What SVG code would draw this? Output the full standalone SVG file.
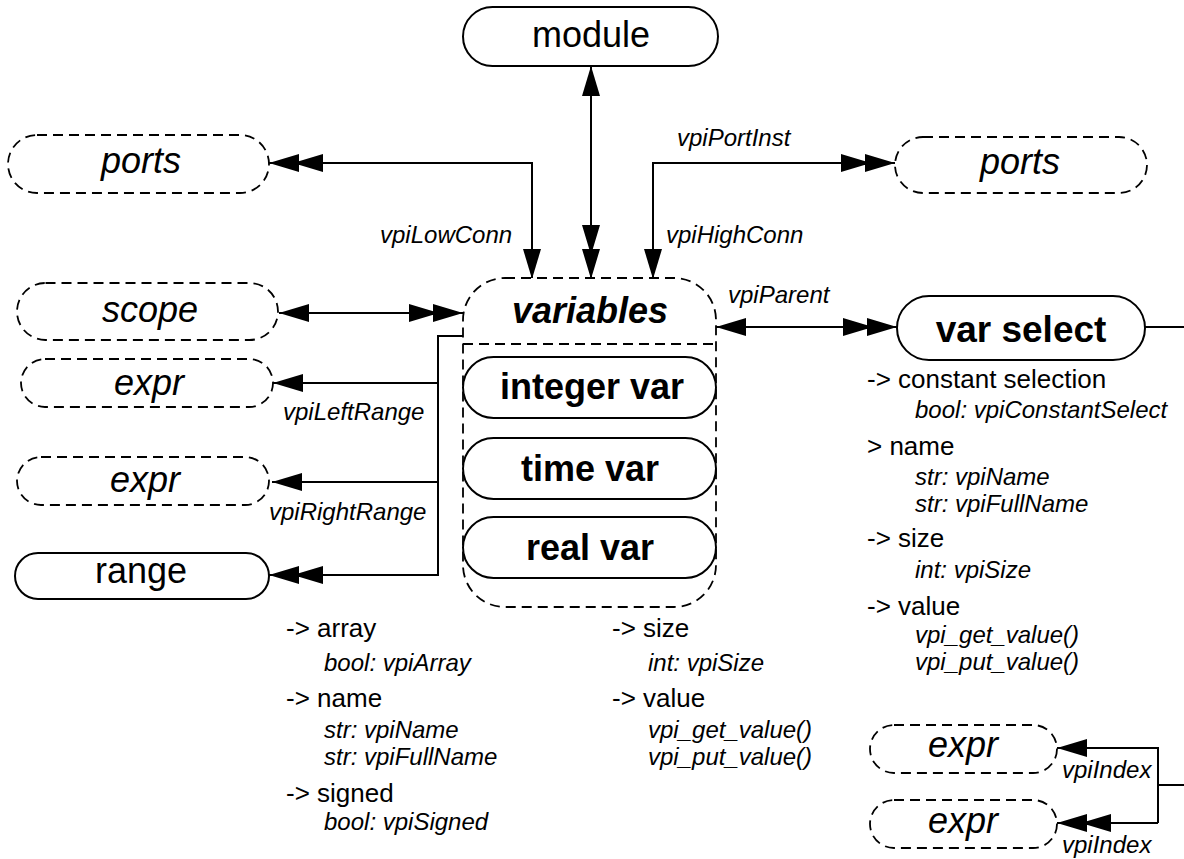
<svg xmlns="http://www.w3.org/2000/svg" width="1184" height="859" viewBox="0 0 1184 859">
<style>
text{font-family:"Liberation Sans",Arial,sans-serif;fill:#000}
.solid{fill:#fff;stroke:#000;stroke-width:2}
.dash{fill:#fff;stroke:#000;stroke-width:1.8;stroke-dasharray:10,6}
.dashline{fill:none;stroke:#000;stroke-width:1.8;stroke-dasharray:10,6}
.nl{font-size:36px;text-anchor:middle}
.it{font-style:italic}
.b{font-weight:bold}
.lbl{font-size:24px;font-style:italic}
.at{font-size:26px}
.ai{font-size:24px;font-style:italic}
.c{fill:none;stroke:#000;stroke-width:2}
</style>
<defs>
<marker id="a1" markerUnits="userSpaceOnUse" viewBox="-32 -11 34 22" refX="0" refY="0" markerWidth="34" markerHeight="22" orient="auto-start-reverse">
<path d="M0,0 L-30,-9 L-30,9 z" fill="#000"/>
</marker>
<marker id="a2" markerUnits="userSpaceOnUse" viewBox="-58 -11 60 22" refX="0" refY="0" markerWidth="60" markerHeight="22" orient="auto-start-reverse">
<path d="M0,0 L-30,-9 L-30,9 z M-24,0 L-54,-9 L-54,9 z" fill="#000"/>
</marker>
</defs>

<g id="connectors">
<path class="c" d="M591,66 L591,279" marker-start="url(#a1)" marker-end="url(#a2)"/>
<path class="c" d="M532,279 L532,163 L269,163" marker-start="url(#a1)" marker-end="url(#a2)"/>
<path class="c" d="M653,279 L653,163 L895,163" marker-start="url(#a1)" marker-end="url(#a2)"/>
<path class="c" d="M279,313 L463,313" marker-start="url(#a1)" marker-end="url(#a2)"/>
<path class="c" d="M463,336 L438,336 L438,575 L269,575" marker-end="url(#a2)"/>
<path class="c" d="M438,383 L273,383" marker-end="url(#a1)"/>
<path class="c" d="M438,482 L272,482" marker-end="url(#a1)"/>
<path class="c" d="M716,327 L897,327" marker-start="url(#a1)" marker-end="url(#a2)"/>
<path class="c" d="M1145,327 L1184,327"/>
<path class="c" d="M1184,785 L1158,785"/>
<path class="c" d="M1158,747 L1158,823"/>
<path class="c" d="M1158,748 L1057,748" marker-end="url(#a1)"/>
<path class="c" d="M1158,823 L1057,823" marker-end="url(#a2)"/>
<text class="lbl" x="380" y="243">vpiLowConn</text>
<text class="lbl" x="666" y="243">vpiHighConn</text>
<text class="lbl" x="677" y="146">vpiPortInst</text>
<text class="lbl" x="728" y="303">vpiParent</text>
<text class="lbl" x="283" y="420">vpiLeftRange</text>
<text class="lbl" x="269" y="520">vpiRightRange</text>
<text class="lbl" x="1062" y="778">vpiIndex</text>
<text class="lbl" x="1062" y="853">vpiIndex</text>
</g>

<g id="module">
<rect class="solid" x="463" y="7" width="255" height="59" rx="29.5"/>
<text class="nl" x="591" y="47">module</text>
</g>

<g id="ports-left">
<rect class="dash" x="8" y="135" width="261" height="58" rx="29"/>
<text class="nl it" x="141" y="173">ports</text>
</g>

<g id="ports-right">
<rect class="dash" x="895" y="137" width="252" height="56" rx="28"/>
<text class="nl it" x="1020" y="174">ports</text>
</g>

<g id="scope">
<rect class="dash" x="17" y="283" width="261" height="57" rx="28.5"/>
<text class="nl it" x="150" y="322">scope</text>
</g>

<g id="expr-left">
<rect class="dash" x="21" y="359" width="252" height="48" rx="24"/>
<text class="nl it" x="149" y="395">expr</text>
</g>

<g id="expr-right">
<rect class="dash" x="17" y="457" width="252" height="48" rx="24"/>
<text class="nl it" x="145" y="492">expr</text>
</g>

<g id="range">
<rect class="solid" x="15" y="553" width="254" height="46" rx="23"/>
<text class="nl" x="141" y="583">range</text>
</g>

<g id="variables">
<rect class="dash" x="463" y="278" width="253" height="329" rx="42"/>
<line class="dashline" x1="463" y1="344" x2="716" y2="344"/>
<text class="nl it b" x="590" y="323">variables</text>
</g>

<g id="integer-var">
<rect class="solid" x="463" y="357" width="253" height="61" rx="30.5"/>
<text class="nl b" x="592" y="399">integer var</text>
</g>

<g id="time-var">
<rect class="solid" x="463" y="438" width="253" height="61" rx="30.5"/>
<text class="nl b" x="590" y="481">time var</text>
</g>

<g id="real-var">
<rect class="solid" x="463" y="517" width="253" height="61" rx="30.5"/>
<text class="nl b" x="590" y="560">real var</text>
</g>

<g id="var-select">
<rect class="solid" x="897" y="296" width="248" height="64" rx="32"/>
<text class="nl b" x="1021" y="342" style="font-size:37px">var select</text>
</g>

<g id="expr-index1">
<rect class="dash" x="870" y="725" width="187" height="48" rx="24"/>
<text class="nl it" x="963" y="757">expr</text>
</g>

<g id="expr-index2">
<rect class="dash" x="870" y="800" width="187" height="48" rx="24"/>
<text class="nl it" x="963" y="833">expr</text>
</g>

<g id="variables-props">
<text class="at" x="286" y="637">-&gt; array</text>
<text class="ai" x="324" y="671">bool: vpiArray</text>
<text class="at" x="286" y="707">-&gt; name</text>
<text class="ai" x="324" y="738">str: vpiName</text>
<text class="ai" x="324" y="765">str: vpiFullName</text>
<text class="at" x="286" y="802">-&gt; signed</text>
<text class="ai" x="324" y="830">bool: vpiSigned</text>
<text class="at" x="612" y="637">-&gt; size</text>
<text class="ai" x="648" y="671">int: vpiSize</text>
<text class="at" x="612" y="707">-&gt; value</text>
<text class="ai" x="648" y="738">vpi_get_value()</text>
<text class="ai" x="648" y="765">vpi_put_value()</text>
</g>

<g id="var-select-props">
<text class="at" x="867" y="388">-&gt; constant selection</text>
<text class="ai" x="915" y="418">bool: vpiConstantSelect</text>
<text class="at" x="867" y="455">&gt; name</text>
<text class="ai" x="915" y="485">str: vpiName</text>
<text class="ai" x="915" y="512">str: vpiFullName</text>
<text class="at" x="867" y="547">-&gt; size</text>
<text class="ai" x="915" y="578">int: vpiSize</text>
<text class="at" x="867" y="615">-&gt; value</text>
<text class="ai" x="915" y="643">vpi_get_value()</text>
<text class="ai" x="915" y="670">vpi_put_value()</text>
</g>
</svg>
